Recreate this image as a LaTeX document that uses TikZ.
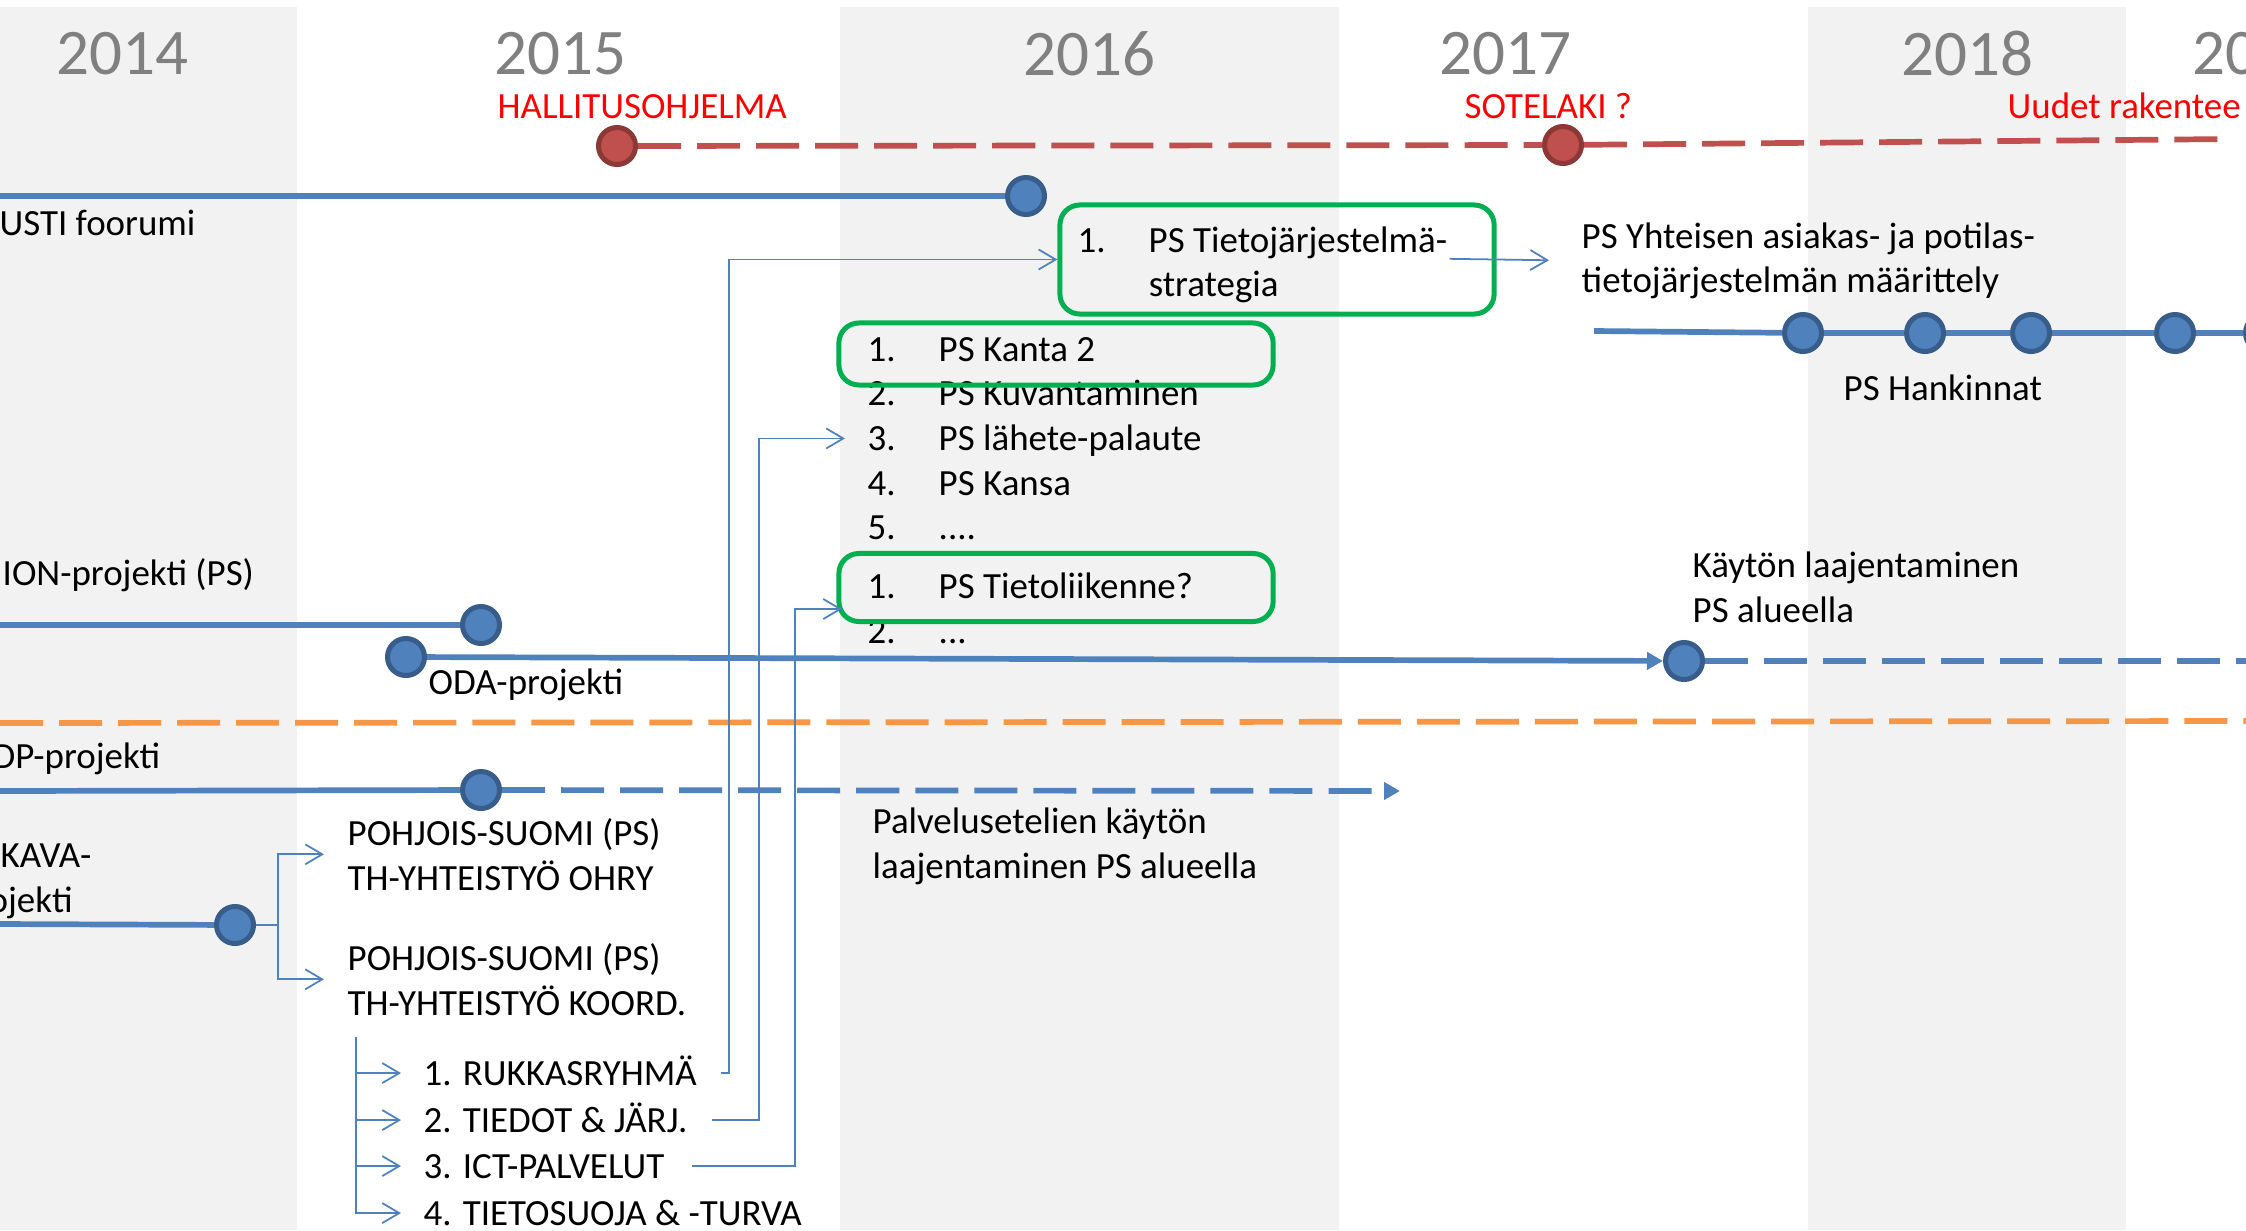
\documentclass[tikz,border=0pt]{standalone}
\usepackage{fontspec}
\setmainfont{Carlito}
\usetikzlibrary{arrows.meta}

\definecolor{bandgray}{HTML}{F2F2F2}
\definecolor{yeargray}{HTML}{808080}
\definecolor{msblue}{HTML}{4F81BD}
\definecolor{msblueedge}{HTML}{385D8A}
\definecolor{msred}{HTML}{C0504D}
\definecolor{msrededge}{HTML}{8C3836}
\definecolor{msorange}{HTML}{F79646}
\definecolor{msgreen}{HTML}{00B050}

% numbered list entry: number column + text
\newcommand{\listno}[1]{\makebox[0.71cm][l]{#1}}

\tikzset{
  txt/.style={inner sep=0pt, anchor=base west, align=left,
    font=\fontsize{10.5}{12.7}\selectfont},
  capline/.style={txt, text height=6.8pt, text depth=0pt},
  year/.style={inner sep=0pt, text=yeargray, font=\fontsize{18.5}{20}\selectfont},
  event/.style={txt, text=red},
  milestone/.style={circle, draw=msblueedge, fill=msblue, line width=0.05cm,
    minimum size=0.37cm, inner sep=0pt},
  redstone/.style={milestone, draw=msrededge, fill=msred},
  track/.style={draw=msblue, line width=0.057cm},
  plan/.style={track, dash pattern=on 0.43cm off 0.16cm},
  arrowed/.style={-{Triangle[length=0.16cm,width=0.17cm]}},
  gbox/.style={draw=msgreen, line width=0.05cm, rounded corners=0.2cm,
    minimum width=4.34cm},
  link/.style={draw=msblue, line width=0.5pt,
    -{Straight Barb[length=0.17cm,width=0.2cm]}},
}

\begin{document}
\begin{tikzpicture}[x=0.01cm,y=-0.01cm]
  \useasboundingbox (0,0) rectangle (2246,1230);
  \clip (0,0) rectangle (2246,1230);
  \fill[white] (0,0) rectangle (2246,1230);

  % year columns
  \fill[bandgray] (0,7) rectangle (297,1230);
  \fill[bandgray] (840,7) rectangle (1339,1230);
  \fill[bandgray] (1808,7) rectangle (2126,1230);
  \foreach \yr/\x in {2014/122,2015/560,2016/1089,2017/1505,2018/1967}
    \node[year] (y\yr) at (\x,54) {\yr};
  \node[year, anchor=west] (ynext) at (2192,54) {20};

  % government events
  \node[event] (hallitus) at (497,118) {HALLITUSOHJELMA};
  \node[event] (sotelaki) at (1464,118) {SOTELAKI ?};
  \node[event] (uudet) at (2007,118) {Uudet rakentee};
  \node[redstone] (r1) at (617,146) {};
  \node[redstone] (r2) at (1563,145) {};
  \coordinate (redend) at (2233,139);
  \draw[plan, draw=msred] (r1) -- (r2) -- (redend);

  % forum
  \coordinate (usti0) at (0,196);
  \node[milestone] (usti) at (1026,196) {};
  \draw[track] (usti0) -- (usti);
  \node[txt] (ustitext) at (-1,235) {USTI foorumi};

  % strategy (multi-line nodes sit on their last baseline)
  \node[txt] (strattext) at (1077,296.7) {\listno{1.}PS Tietojärjestelmä-\\\listno{}strategia};
  \node[gbox, minimum height=1.09cm] (strat) at (1277,259.5) {};
  \node[txt] (yht) at (1581,292.7) {PS Yhteisen asiakas- ja potilas-\\tietojärjestelmän määrittely};

  % procurements
  \coordinate (hank0) at (1594,331);
  \foreach \x [count=\n] in {1803,1925,2031,2175,2264}
    \node[milestone] (h\n) at (\x,333) {};
  \draw[track] (hank0) -- (h1) -- (h2) -- (h3) -- (h4) -- (h5);
  \node[txt] (hanktext) at (1843,400) {PS Hankinnat};

  % topic lists
  \node[capline] (kn1) at (867,361) {\listno{1.}PS Kanta 2};
  \node[capline] (kn2) at (867,405.7) {\listno{2.}PS Kuvantaminen};
  \node[capline] (kn3) at (867,450.4) {\listno{3.}PS lähete-palaute};
  \node[capline] (kn4) at (867,495.1) {\listno{4.}PS Kansa};
  \node[capline] (kn5) at (867,539.8) {\listno{5.}....};
  \node[gbox, minimum height=0.62cm] (kanta) at (1056,354) {};
  \node[capline] (tl1) at (867,598) {\listno{1.}PS Tietoliikenne?};
  \node[capline] (tl2) at (867,643) {\listno{2.}...};
  \node[gbox, minimum height=0.68cm] (tlbox) at (1056,587.5) {};

  % projects
  \coordinate (ion0) at (0,625);
  \node[milestone] (ion) at (481,625) {};
  \draw[track] (ion0) -- (ion);
  \node[txt] (iontext) at (2,585) {ION-projekti (PS)};

  \node[milestone] (oda) at (406,657) {};
  \node[milestone] (kaytto) at (1684,661) {};
  \coordinate (kaytto1) at (2250,661);
  \draw[track, arrowed] (oda) -- (kaytto);
  \draw[plan] (kaytto) -- (kaytto1);
  \node[txt] (odatext) at (428,694) {ODA-projekti};
  \node[txt] (kayttotext) at (1692,622) {Käytön laajentaminen\\PS alueella};

  \coordinate (or0) at (0,723);
  \coordinate (or1) at (2250,721);
  \draw[plan, draw=msorange] (or0) -- (or1);

  \coordinate (dp0) at (0,791);
  \node[milestone] (dp) at (481,790) {};
  \coordinate (dp1) at (1400,791);
  \draw[track] (dp0) -- (dp);
  \draw[plan, arrowed] (dp) -- (dp1);
  \node[txt] (dptext) at (-8,768) {DP-projekti};
  \node[txt] (palvtext) at (872,878) {Palvelusetelien käytön\\laajentaminen PS alueella};

  \coordinate (kava0) at (0,924);
  \node[milestone] (kava) at (235,925) {};
  \draw[track] (kava0) -- (kava);
  \node[txt] (kavatext) at (0,867) {KAVA-};
  \node[txt] (kavatext2) at (-12,912) {ojekti};
  \node[txt] (ohry) at (347,890) {POHJOIS-SUOMI (PS)\\TH-YHTEISTYÖ OHRY};
  \node[txt] (koord) at (347,1015) {POHJOIS-SUOMI (PS)\\TH-YHTEISTYÖ KOORD.};
  \foreach \t/\y [count=\n] in {RUKKASRYHMÄ/1085,TIEDOT \& JÄRJ./1132,ICT-PALVELUT/1178,TIETOSUOJA \& -TURVA/1225}
    \node[capline] (sub\n) at (423,\y) {\n. \t};

  % working groups -> topics
  \coordinate (rail1) at (729,0);
  \coordinate (rail2) at (759,0);
  \coordinate (rail3) at (795,0);
  \coordinate (ictin) at (842,609);
  \coordinate (stem) at (356,1037);
  \draw[link, shorten >=0.23cm] (kava.east) -- ++(22,0) |- (ohry.west);
  \draw[link, shorten >=0.23cm] (kava.east) -- ++(22,0) |- (koord.west);
  \foreach \n in {1,...,4}
    \draw[link, shorten >=0.22cm] (stem) |- (sub\n.west);
  \draw[link, shorten <=0.24cm] (sub1.east) -- (sub1.east -| rail1) |- (strat.west);
  \draw[link, shorten <=0.24cm, shorten >=0.22cm] (sub2.east) -- (sub2.east -| rail2) |- (kn3.west);
  \draw[link, shorten <=0.27cm] (sub3.east) -- (sub3.east -| rail3) |- (ictin);
  \draw[link, shorten <=-0.47cm, shorten >=0.32cm] (strat.east) -- (yht.west);
\end{tikzpicture}
\end{document}
